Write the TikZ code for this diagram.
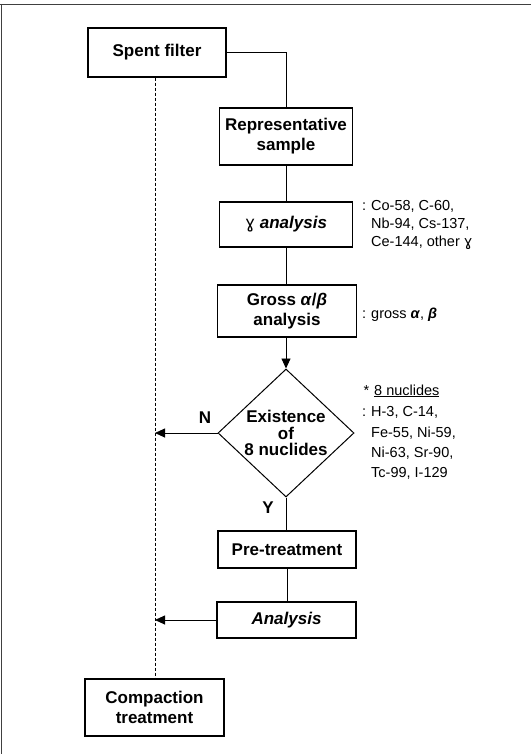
\documentclass[tikz,border=0pt]{standalone}
\usepackage{fontspec}
\setmainfont{Liberation Sans}
\newfontfamily\dvfont{DejaVu Sans}
\usetikzlibrary{shapes.geometric,arrows.meta}
\begin{document}
\begin{tikzpicture}[x=1pt,y=-1pt,
  box/.style={draw, line width=1.1pt, rectangle, inner sep=0pt, align=center,
    font=\fontsize{17}{20}\selectfont\bfseries},
  lbl/.style={anchor=base west, inner sep=0pt, font=\fontsize{14.5}{17}\selectfont},
  yn/.style={inner sep=0pt, font=\fontsize{17}{18}\selectfont\bfseries},
  conn/.style={line width=0.9pt},
  arr/.style={conn, -{Triangle[length=10pt,width=9pt]}},
  dashline/.style={line width=0.9pt, dash pattern=on 3pt off 2pt}]
\useasboundingbox (0,0) rectangle (531,754);
\fill[white] (0,0) rectangle (531,754);
% frame
\draw[line width=1pt, black!75] (0,4.5) -- (531,4.5);
\draw[line width=1pt, black!75] (1.5,4) -- (1.5,754);
% boxes
\node[box, minimum width=138pt, minimum height=49pt] (sf) at (157,52.5) {Spent filter};
\node[box, minimum width=133pt, minimum height=57pt] (rs) at (286,136.5) {Representative\\sample};
\node[box, minimum width=133pt, minimum height=45pt] (ga) at (286,224.5) {{\mdseries\dvfont ɣ} \textit{analysis}};
\node[box, minimum width=139pt, minimum height=52pt] (gb) at (287,311) {Gross \textit{α}/\textit{β}\\analysis};
\node[diamond, draw, line width=1pt, minimum width=136pt, minimum height=128pt, inner sep=0pt] (dm) at (286,433) {};
\node[box, draw=none, font=\fontsize{17}{16.5}\selectfont\bfseries] (dmt) at (dm.center) {Existence\\of\\8 nuclides};
\node[box, minimum width=138pt, minimum height=37pt] (pt) at (287,549.5) {Pre-treatment};
\node[box, minimum width=139pt, minimum height=36pt] (an) at (286.5,620) {\textit{Analysis}};
\node[box, minimum width=139pt, minimum height=57pt] (cp) at (154.5,707.5) {Compaction\\treatment};
% connectors
\coordinate (dx) at (155,0);
\draw[conn] (sf.east) -| (rs.north);
\draw[conn] (rs.south) -- (ga.north);
\draw[conn] (ga.south) -- (ga.south |- gb.north);
\draw[arr] (dm.north |- gb.south) -- (dm.north);
\draw[arr] (dm.west) -- (dm.west -| dx);
\draw[conn] (dm.south) -- (dm.south |- pt.north);
\draw[conn] (pt.south) -- (pt.south |- an.north);
\draw[arr] (an.west) -- (an.west -| dx);
\draw[dashline] (dx |- sf.south) -- (dx |- cp.north);
% Y/N
\node[yn] (nn) at (205,418) {N};
\node[yn] (yy) at (268,508) {Y};
% labels
\node[lbl] (g1) at (371,210) {\llap{:\hspace{5pt}}Co-58, C-60,};
\node[lbl] (g2) at (371,228) {Nb-94, Cs-137,};
\node[lbl] (g3) at (371,246) {Ce-144, other {\dvfont ɣ}};
\node[lbl] (gr) at (371,318) {\llap{:\hspace{5pt}}gross \textbf{\textit{α}}, \textbf{\textit{β}}};
\node[lbl] (n0) at (374,395) {\llap{*\hspace{5pt}}\underline{8 nuclides}};
\node[lbl] (n1) at (371,416) {\llap{:\hspace{5pt}}H-3, C-14,};
\node[lbl] (n2) at (371,437) {Fe-55, Ni-59,};
\node[lbl] (n3) at (371,457) {Ni-63, Sr-90,};
\node[lbl] (n4) at (371,477) {Tc-99, I-129};
\end{tikzpicture}
\end{document}
